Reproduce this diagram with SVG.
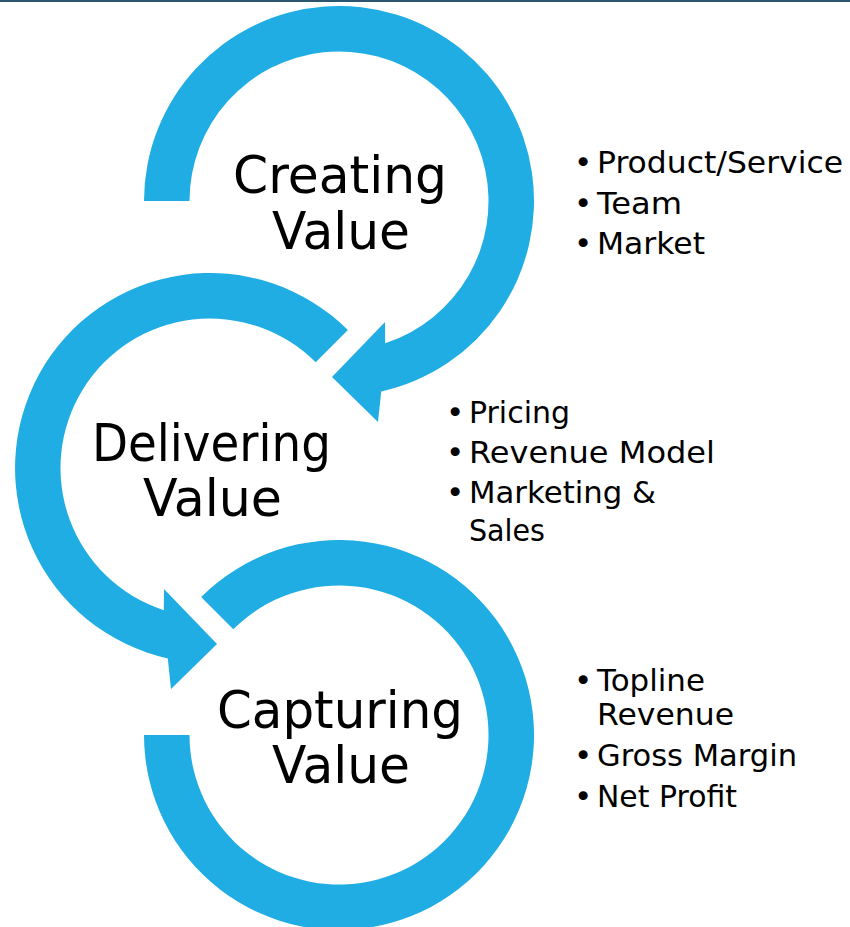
<svg xmlns="http://www.w3.org/2000/svg" width="850" height="927" viewBox="0 0 850 927">
  <style>
    .ring { fill: #1fade3; }
    .label { font-family: "DejaVu Sans", "Liberation Sans", sans-serif; font-size: 52px; fill: #000000; }
    .bullet { font-family: "DejaVu Sans", "Liberation Sans", sans-serif; font-size: 31px; fill: #000000; }
  </style>
  <rect x="0" y="0" width="850" height="2" fill="#2c5670"/>
  <g id="connectors">
    <path class="ring" d="M 144,201 A 195 195 0 1 1 381.2,391.4 L 378,422 L 332,377 L 385,322 L 385.2,343.2 A 149.5 149.5 0 1 0 189.5,201 Z"/>
    <path class="ring" d="M 347.9,330.1 A 195 195 0 1 0 167.8,658.4 L 171,689 L 217,644 L 164,589 L 163.8,610.2 A 149.5 149.5 0 1 1 315.7,362.3 Z"/>
    <path class="ring" d="M 201.1,597.1 A 195 195 0 1 1 144,735 L 189.5,735 A 149.5 149.5 0 1 0 233.3,629.3 Z"/>
  </g>
  <g id="node-creating">
    <text class="label" x="233" y="193" textLength="214" lengthAdjust="spacingAndGlyphs">Creating</text>
    <text class="label" x="272" y="249" textLength="138" lengthAdjust="spacingAndGlyphs">Value</text>
  </g>
  <g id="node-delivering">
    <text class="label" x="92" y="461" textLength="239" lengthAdjust="spacingAndGlyphs">Delivering</text>
    <text class="label" x="143" y="516" textLength="139" lengthAdjust="spacingAndGlyphs">Value</text>
  </g>
  <g id="node-capturing">
    <text class="label" x="217" y="728" textLength="246" lengthAdjust="spacingAndGlyphs">Capturing</text>
    <text class="label" x="272" y="783" textLength="138" lengthAdjust="spacingAndGlyphs">Value</text>
  </g>
  <g id="list-creating">
    <text class="bullet" x="574" y="173">•</text>
    <text class="bullet" x="597" y="173" textLength="246" lengthAdjust="spacingAndGlyphs">Product/Service</text>
    <text class="bullet" x="574" y="214">•</text>
    <text class="bullet" x="597" y="214" textLength="85" lengthAdjust="spacingAndGlyphs">Team</text>
    <text class="bullet" x="574" y="254">•</text>
    <text class="bullet" x="597" y="254" textLength="108" lengthAdjust="spacingAndGlyphs">Market</text>
  </g>
  <g id="list-delivering">
    <text class="bullet" x="446" y="423">•</text>
    <text class="bullet" x="469" y="423" textLength="101" lengthAdjust="spacingAndGlyphs">Pricing</text>
    <text class="bullet" x="446" y="463">•</text>
    <text class="bullet" x="469" y="463" textLength="246" lengthAdjust="spacingAndGlyphs">Revenue Model</text>
    <text class="bullet" x="446" y="503">•</text>
    <text class="bullet" x="469" y="503" textLength="187" lengthAdjust="spacingAndGlyphs">Marketing &amp;</text>
    <text class="bullet" x="469" y="541" textLength="76" lengthAdjust="spacingAndGlyphs">Sales</text>
  </g>
  <g id="list-capturing">
    <text class="bullet" x="574" y="691">•</text>
    <text class="bullet" x="597" y="691" textLength="108" lengthAdjust="spacingAndGlyphs">Topline</text>
    <text class="bullet" x="597" y="725" textLength="137" lengthAdjust="spacingAndGlyphs">Revenue</text>
    <text class="bullet" x="574" y="766">•</text>
    <text class="bullet" x="597" y="766" textLength="200" lengthAdjust="spacingAndGlyphs">Gross Margin</text>
    <text class="bullet" x="574" y="807">•</text>
    <text class="bullet" x="597" y="807" textLength="140" lengthAdjust="spacingAndGlyphs">Net Profit</text>
  </g>
</svg>
